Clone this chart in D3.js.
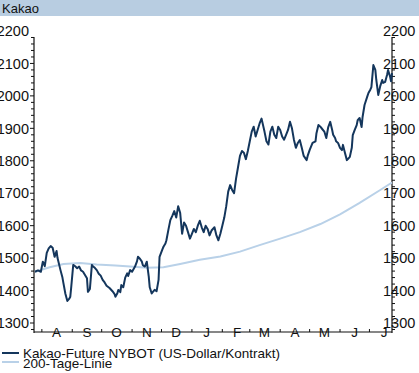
<!DOCTYPE html>
<html><head><meta charset="utf-8">
<script src="https://cdn.jsdelivr.net/npm/d3@7/dist/d3.min.js"></script>
<style>
html,body{margin:0;padding:0;background:#fff;}
svg{display:block;font-family:"Liberation Sans",Arial,sans-serif;}
</style></head>
<body>
<svg id="c" width="419" height="373"></svg>
<script>
// ---- data ----
const title = "Kakao";
const startDate = new Date(2006, 6, 24);
const endDate = new Date(2007, 6, 24);
const monthLabels = ["A","S","O","N","D","J","F","M","A","M","J","J"];
const yTicks = [1300,1400,1500,1600,1700,1800,1900,2000,2100,2200];
const seriesNames = ["Kakao-Future NYBOT (US-Dollar/Kontrakt)", "200-Tage-Linie"];

// days since start / price
const futDays = [1,4,7,9,11,13,15,17,19,21,23,24,27,29,30,32,34,36,37,38,40,42,44,46,48,50,52,54,55,57,59,60,62,64,66,68,70,72,74,77,80,82,83,85,86,88,89,91,93,95,96,98,100,103,105,106,108,110,111,113,115,117,118,120,121,123,125,127,128,131,132,134,135,137,139,141,143,145,147,149,151,153,155,157,159,161,163,165,167,169,171,173,175,177,179,181,184,186,188,190,192,194,196,198,200,202,204,206,208,210,212,214,216,218,220,222,224,226,228,230,232,235,237,239,241,243,245,247,249,251,253,255,257,259,261,263,265,267,269,271,273,275,278,279,281,284,287,288,290,292,293,296,298,300,302,304,305,307,308,310,312,314,315,317,319,320,322,324,325,327,329,330,332,334,335,337,340,341,343,344,346,348,349,351,353,355,356,358,360,361,363,364,365];
const futVals = [1458,1462,1458,1489,1475,1516,1530,1537,1532,1504,1522,1500,1463,1440,1423,1390,1368,1375,1381,1412,1479,1475,1469,1474,1462,1458,1448,1438,1396,1405,1479,1475,1470,1463,1452,1446,1433,1425,1415,1408,1398,1390,1381,1392,1402,1395,1417,1410,1440,1453,1445,1463,1458,1474,1490,1504,1498,1489,1478,1474,1489,1443,1410,1391,1395,1402,1398,1433,1504,1528,1535,1545,1555,1587,1617,1630,1645,1625,1660,1640,1575,1610,1600,1580,1560,1575,1590,1580,1600,1615,1595,1580,1600,1590,1570,1585,1595,1570,1555,1575,1600,1625,1660,1705,1725,1710,1700,1745,1780,1815,1830,1825,1805,1830,1860,1890,1905,1875,1895,1915,1930,1890,1860,1850,1890,1905,1880,1870,1905,1895,1875,1865,1880,1895,1920,1900,1865,1840,1855,1864,1840,1815,1802,1815,1833,1855,1860,1885,1910,1905,1901,1890,1870,1904,1920,1895,1880,1870,1860,1855,1840,1833,1849,1825,1802,1805,1812,1840,1879,1895,1910,1925,1932,1904,1935,1972,2000,2009,2020,2027,2095,2080,2049,2003,2030,2049,2040,2043,2065,2080,2060,2045,2070];

const maDays = [1,16,30,47,64,83,98,115,132,149,169,190,210,230,251,271,292,312,332,353,365];
const maVals = [1458,1472,1482,1485,1480,1477,1474,1470,1472,1482,1495,1505,1520,1540,1560,1580,1605,1635,1670,1710,1733];

// ---- drawing ----
const svg = d3.select("#c");
const colDark = "#14365c", colLight = "#b9d1e8";

svg.append("rect").attr("x",0).attr("y",0).attr("width",419).attr("height",16).attr("fill","#b8cde1");
svg.append("text").attr("x",2).attr("y",12.5).attr("font-size",13).attr("fill","#111").text(title);

const x = d3.scaleTime().domain([startDate, endDate]).range([34, 392]);
const y = d3.scaleLinear().domain([1300, 2200]).range([323, 31]);
const yTop = 37, yBot = 332;

const g = svg.append("g");
// axes lines
g.append("line").attr("x1",34).attr("x2",34).attr("y1",yTop).attr("y2",yBot+1).attr("stroke","#111").attr("stroke-width",1.2);
g.append("line").attr("x1",392).attr("x2",392).attr("y1",yTop).attr("y2",yBot+1).attr("stroke","#111").attr("stroke-width",1.2);
g.append("line").attr("x1",34).attr("x2",392).attr("y1",yBot).attr("y2",yBot).attr("stroke","#111").attr("stroke-width",1.2);

// y minor/major ticks
const minor = d3.range(1280, 2181, 20).filter(v => y(v) >= yTop && y(v) <= yBot);
minor.forEach(v => {
  const major = v % 100 === 0;
  const len = major ? 4 : 3;
  g.append("line").attr("x1",34-len).attr("x2",34).attr("y1",y(v)).attr("y2",y(v)).attr("stroke","#111");
  g.append("line").attr("x1",392).attr("x2",392+len).attr("y1",y(v)).attr("y2",y(v)).attr("stroke","#111");
});
yTicks.forEach(v => {
  g.append("text").attr("x",29).attr("y",y(v)).attr("dy","0.36em").attr("text-anchor","end")
    .attr("font-size",14.5).attr("fill","#111").text(String(v));
  g.append("text").attr("x",383).attr("y",y(v)).attr("dy","0.36em").attr("text-anchor","start")
    .attr("font-size",14.5).attr("fill","#111").text(String(v));
});

// x month ticks & labels
const months = d3.timeMonth.range(new Date(2006,7,1), new Date(2007,7,1));
months.forEach((m,i) => {
  g.append("line").attr("x1",x(m)).attr("x2",x(m)).attr("y1",yBot-3).attr("y2",yBot).attr("stroke","#111");
  const mid = new Date(m.getFullYear(), m.getMonth(), 16);
  g.append("text").attr("x",x(mid)).attr("y",yBot).attr("dy","0.36em").attr("text-anchor","middle")
    .attr("font-size",13.5).attr("fill","#111").text(monthLabels[i]);
});

const day = d => d3.timeDay.offset(startDate, d);
const line = d3.line().x(d => x(day(d[0]))).y(d => y(d[1]));

g.append("path").attr("d", line(maDays.map((d,i)=>[d, maVals[i]])))
  .attr("fill","none").attr("stroke",colLight).attr("stroke-width",2);
g.append("path").attr("d", line(futDays.map((d,i)=>[d, futVals[i]])))
  .attr("fill","none").attr("stroke",colDark).attr("stroke-width",2).attr("stroke-linejoin","round");

// legend
const lg = svg.append("g");
[[colDark, 353, seriesNames[0], 358], [colLight, 362, seriesNames[1], 367.5]].forEach(([c, ly, t, ty]) => {
  lg.append("line").attr("x1",2).attr("x2",19).attr("y1",ly).attr("y2",ly).attr("stroke",c).attr("stroke-width",2);
  lg.append("text").attr("x",23).attr("y",ty).attr("font-size",13.5).attr("fill","#111").text(t);
});
</script>
</body></html>
